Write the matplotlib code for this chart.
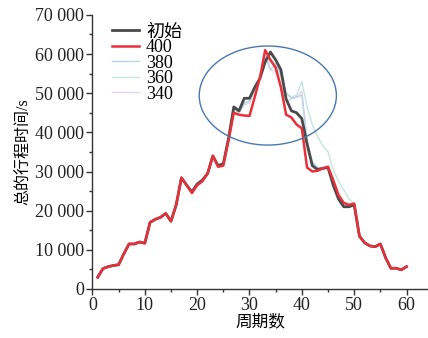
import matplotlib
matplotlib.use("Agg")
import matplotlib.pyplot as plt
from matplotlib.patches import Ellipse
from matplotlib.ticker import MultipleLocator, FuncFormatter

plt.rcParams['font.family'] = ['Liberation Serif', 'Noto Sans CJK SC']

periods = list(range(1, 61))

base = [3000, 5200, 5700, 6000, 6200, 9000, 11500, 11500, 12000, 11700,
        17000, 17800, 18300, 19300, 17300, 21500, 28400, 26500, 24800, 26800,
        27800, 29500, 34000, 31500, 32000, 38500, 46500, 45500, 48700, 48700,
        51500, 53800, 58000, 60500, 58500, 56000, 48500, 45500, 45000, 43500,
        37000, 31500, 30500, 30800, 31000, 26500, 23000, 21000, 21000, 21500,
        13500, 11800, 11000, 10800, 11500, 8000, 5300, 5300, 4900, 5700]

s400 = [3000, 5200, 5700, 6000, 6200, 9000, 11500, 11500, 12000, 11700,
        17000, 17800, 18300, 19300, 17300, 21500, 28400, 26500, 24500, 26500,
        27500, 29500, 34000, 31200, 31500, 38000, 45000, 44500, 44300, 44200,
        49000, 54000, 61000, 58500, 56500, 51500, 44500, 43800, 42000, 41000,
        31000, 30000, 30200, 30800, 31200, 27800, 24000, 22000, 21500, 21800,
        13500, 11800, 11000, 10800, 11500, 8000, 5300, 5300, 4900, 5700]

s380 = [3000, 5200, 5700, 6000, 6200, 9000, 11500, 11500, 12000, 11700,
        17000, 17800, 18300, 19300, 17300, 21500, 28400, 26500, 24800, 26800,
        27800, 29500, 34000, 31500, 32000, 38500, 46000, 45000, 47500, 48000,
        51000, 54000, 59000, 56000, 57500, 55000, 50000, 48700, 49000, 49500,
        38000, 32500, 31000, 31000, 31500, 27500, 24000, 22000, 21500, 21500,
        13500, 11800, 11000, 10800, 11500, 8000, 5300, 5300, 4900, 5700]

s360 = [3000, 5200, 5700, 6000, 6200, 9000, 11500, 11500, 12000, 11700,
        17000, 17800, 18300, 19300, 17300, 21500, 28400, 26500, 24800, 26800,
        27800, 29500, 34000, 31500, 32000, 38500, 46000, 45000, 47500, 48000,
        51000, 54000, 59500, 58000, 57500, 54000, 50000, 49000, 49500, 53000,
        46500, 42000, 39000, 36500, 35000, 30500, 27500, 25300, 23000, 21800,
        13500, 11800, 11000, 10800, 11500, 8000, 5300, 5300, 4900, 5700]

s340 = [3000, 5200, 5700, 6000, 6200, 9000, 11500, 11500, 12000, 11700,
        17000, 17800, 18300, 19300, 17300, 21500, 28400, 26500, 24800, 26800,
        27800, 29500, 34000, 31500, 32000, 38500, 46000, 45000, 47000, 47500,
        50500, 54000, 61000, 56000, 55500, 52000, 48000, 48500, 49000, 50500,
        38000, 32000, 31000, 30800, 31000, 27000, 23500, 21500, 21200, 21500,
        13500, 11800, 11000, 10800, 11500, 8000, 5300, 5300, 4900, 5700]

fig = plt.figure(figsize=(4.28, 3.38), dpi=100)
ax = fig.add_axes([0.216, 0.145, 0.784, 0.811])

ax.plot(periods, s340, color='#e3d3ea', lw=1.0, label='340', zorder=2)
ax.plot(periods, s360, color='#c5e6de', lw=1.0, label='360', zorder=2)
ax.plot(periods, s380, color='#b9d5e8', lw=1.0, label='380', zorder=2)
ax.plot(periods, base, color='#4a4a4a', lw=2.0, label='初始', zorder=3)
ax.plot(periods, s400, color='#e8303a', lw=1.8, label='400', zorder=4)

ax.add_patch(Ellipse((33.5, 49400), 26.2, 25300, fill=False,
                     edgecolor='#4a78ad', lw=1.0, zorder=5))

ax.set_xlim(0, 64.1)
ax.set_ylim(0, 70000)
ax.xaxis.set_major_locator(MultipleLocator(10))
ax.xaxis.set_minor_locator(MultipleLocator(5))
ax.yaxis.set_major_locator(MultipleLocator(10000))
ax.yaxis.set_minor_locator(MultipleLocator(5000))
ax.yaxis.set_major_formatter(FuncFormatter(
    lambda v, p: '0' if v == 0 else '{:,}'.format(int(v)).replace(',', ' ')))

for s in ['top', 'right']:
    ax.spines[s].set_visible(False)
for s in ['left', 'bottom']:
    ax.spines[s].set_color('#333333')
    ax.spines[s].set_linewidth(1.0)
ax.tick_params(which='major', direction='out', length=4, width=1,
               color='#333333', labelsize=13, labelcolor='#222222', pad=2)
ax.tick_params(which='minor', direction='out', length=2.5, width=1,
               color='#333333')

ax.set_xlabel('周期数', fontsize=12, labelpad=0)
ax.set_ylabel('总的行程时间/s', fontsize=11.5, labelpad=2)

handles, labels = ax.get_legend_handles_labels()
order = [3, 4, 2, 1, 0]
leg = ax.legend([handles[i] for i in order], [labels[i] for i in order],
                loc='upper left', bbox_to_anchor=(0.02, 1.015), frameon=False,
                fontsize=13, handlelength=1.5, handletextpad=0.4,
                labelspacing=-0.08, borderpad=0.2)

fig.savefig('out.png', dpi=100)
